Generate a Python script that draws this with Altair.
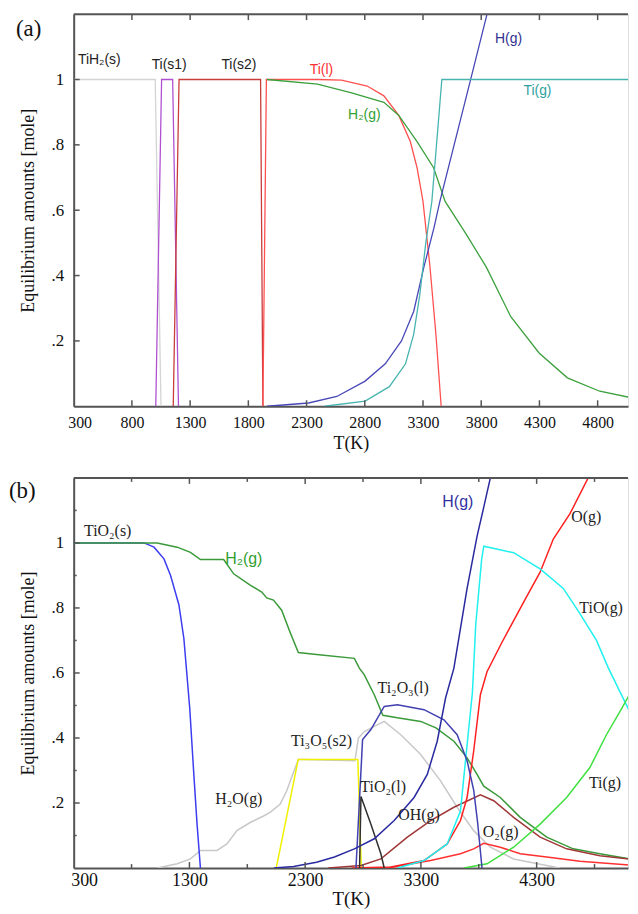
import altair as alt
import pandas as pd

# ---------------- panel (a) : TiH2 ----------------
A_TIH2_T = [300, 1000, 1050]
A_TIH2_V = [1.0, 1.0, 0.0]
A_TIS1_T = [1005, 1055, 1150, 1200]
A_TIS1_V = [0.0, 1.0, 1.0, 0.0]
A_TIS2_T = [1155, 1205, 1905, 1925]
A_TIS2_V = [0.0, 1.0, 1.0, 0.0]
A_TIL_T = [1925, 1955, 2400, 2600, 2821, 2964, 3092, 3191, 3249, 3300, 3359, 3411, 3456]
A_TIL_V = [0.0, 1.0, 1.0, 0.998, 0.98, 0.95, 0.89, 0.81, 0.73, 0.627, 0.43, 0.22, 0.0]
A_H2_T = [1960, 2394, 2679, 2964, 3092, 3249, 3391, 3490, 3672, 3845, 4054, 4297, 4540, 4818, 5130]
A_H2_V = [1.0, 0.986, 0.96, 0.93, 0.89, 0.81, 0.73, 0.627, 0.526, 0.425, 0.274, 0.163, 0.087, 0.046, 0.023]
A_H_T = [1960, 2317, 2560, 2803, 2976, 3115, 3220, 3307, 3394, 3445, 3704, 3850]
A_H_V = [0.0, 0.01, 0.03, 0.077, 0.13, 0.20, 0.29, 0.425, 0.546, 0.627, 0.993, 1.2]
A_TIG_T = [2454, 2803, 3011, 3150, 3220, 3272, 3324, 3376, 3462, 5130]
A_TIG_V = [0.0, 0.016, 0.06, 0.13, 0.22, 0.34, 0.50, 0.627, 1.0, 1.0]

A_SERIES = ["TiH2(s)", "Ti(s1)", "Ti(s2)", "Ti(l)", "H2(g)", "H(g)", "Ti(g)"]
A_COLORS = ["#d4d4d4", "#b050d0", "#c83c3c", "#ff5050", "#3ca03c", "#4848b8", "#48b4b0"]

A_LAB_TEXT = ["TiH₂(s)", "Ti(s1)", "Ti(s2)", "Ti(l)", "H(g)", "Ti(g)", "H₂(g)"]
A_LAB_T = [520, 1120, 1719, 2428, 4035, 4283, 2796]
A_LAB_V = [1.06, 1.045, 1.045, 1.03, 1.124, 0.964, 0.89]
A_LAB_C = ["#222222", "#222222", "#222222", "#ff3030", "#303090", "#30a0a0", "#30a030"]

A_XLABELS = [300, 800, 1300, 1800, 2300, 2800, 3300, 3800, 4300, 4800]
A_XTICKS = [800, 1300, 1800, 2300, 2800, 3300, 3800, 4300, 4800]
A_YTICKS = [0.2, 0.4, 0.6, 0.8, 1.0]

# ---------------- panel (b) : TiO2 ----------------
B_TIO2S_T = [300, 908, 994, 1080, 1137, 1209, 1252, 1270, 1303, 1338, 1366, 1395]
B_TIO2S_V = [1.0, 1.0, 0.987, 0.951, 0.90, 0.81, 0.706, 0.63, 0.49, 0.288, 0.135, 0.0]
B_H2_T = [300, 1022, 1194, 1309, 1395, 1596, 1682, 1825, 1925, 1968, 2026, 2097, 2168, 2241,
          2398, 2725, 2768, 2811, 2897, 2971, 3097, 3298, 3430, 3585, 3699, 3785, 3843, 3986,
          4158, 4387, 4616, 4846, 5160]
B_H2_V = [1.0, 1.0, 0.987, 0.971, 0.949, 0.949, 0.905, 0.87, 0.849, 0.831, 0.824, 0.793, 0.727, 0.663,
          0.657, 0.645, 0.615, 0.594, 0.533, 0.47, 0.462, 0.451, 0.431, 0.39, 0.339, 0.288, 0.252, 0.217,
          0.156, 0.095, 0.059, 0.044, 0.025]
B_H_T = [2030, 2200, 2398, 2553, 2725, 2897, 3069, 3241, 3355, 3441, 3513, 3585, 3699, 3785, 3843, 3900]
B_H_V = [0.0, 0.005, 0.018, 0.034, 0.059, 0.09, 0.146, 0.217, 0.288, 0.39, 0.523, 0.615, 0.86, 1.02, 1.11, 1.2]
B_H2O_T = [1022, 1194, 1309, 1395, 1538, 1624, 1710, 1825, 1940, 1997, 2083, 2140, 2198, 2241, 2300,
           2730, 2760, 2811, 2983, 3126, 3298, 3470, 3613, 3756, 3900, 4101, 4387, 4500]
B_H2O_V = [0.0, 0.013, 0.028, 0.054, 0.054, 0.074, 0.115, 0.14, 0.16, 0.171, 0.196, 0.237, 0.293, 0.334, 0.334,
           0.33, 0.40, 0.42, 0.451, 0.41, 0.349, 0.268, 0.187, 0.115, 0.064, 0.028, 0.008, 0.0]
B_TI3O5_T = [2050, 2240, 2755, 2785]
B_TI3O5_V = [0.0, 0.334, 0.334, 0.0]
B_TI2O3_T = [2739, 2796, 2868, 2983, 3097, 3327, 3499, 3613, 3699, 3756, 3790, 3828]
B_TI2O3_V = [0.0, 0.395, 0.426, 0.497, 0.502, 0.487, 0.456, 0.41, 0.33, 0.24, 0.14, 0.0]
B_TIO2L_T = [2770, 2782, 2868, 2954, 2983]
B_TIO2L_V = [0.0, 0.22, 0.135, 0.044, 0.0]
B_OH_T = [2500, 2782, 2954, 3183, 3384, 3585, 3814, 3929, 4101, 4330, 4559, 4846, 5160]
B_OH_V = [0.0, 0.008, 0.028, 0.095, 0.146, 0.187, 0.225, 0.207, 0.156, 0.095, 0.059, 0.038, 0.025]
B_O_T = [2700, 3040, 3327, 3527, 3642, 3699, 3756, 3814, 3871, 4003, 4204, 4330, 4444, 4588, 4745]
B_O_V = [0.0, 0.003, 0.023, 0.074, 0.146, 0.217, 0.36, 0.533, 0.604, 0.696, 0.829, 0.91, 1.012, 1.09, 1.2]
B_O2_T = [3011, 3384, 3642, 3756, 3843, 3986, 4158, 4387, 4674, 5160]
B_O2_V = [0.0, 0.023, 0.044, 0.059, 0.076, 0.064, 0.044, 0.034, 0.021, 0.008]
B_TIO_T = [3097, 3327, 3527, 3642, 3688, 3745, 3774, 3825, 3843, 4101, 4330, 4530, 4660, 4817, 4920, 5160]
B_TIO_V = [0.0, 0.023, 0.074, 0.176, 0.34, 0.54, 0.75, 0.95, 0.99, 0.97, 0.92, 0.86, 0.79, 0.70, 0.615, 0.44]
B_TIG_T = [3671, 3871, 4101, 4330, 4559, 4760, 4903, 5018, 5160]
B_TIG_V = [0.0, 0.013, 0.064, 0.135, 0.217, 0.309, 0.41, 0.48, 0.57]

B_SERIES = ["H2O(g)", "TiO2(s)", "H2(g)", "Ti3O5(s2)", "OH(g)", "O2(g)", "O(g)", "TiO(g)",
            "Ti(g)", "Ti2O3(l)", "TiO2(l)", "H(g)"]
B_COLORS = ["#c8c8c8", "#3c3cf0", "#3a9a3a", "#f0f000", "#a03838", "#ff3030", "#ff2020", "#20f0f0",
            "#40e040", "#4040b0", "#303030", "#2a2aa0"]

B_SERIF_TEXT = ["TiO₂(s)", "H₂O(g)", "Ti₃O₅(s2)", "Ti₂O₃(l)", "TiO₂(l)", "OH(g)", "O₂(g)", "O(g)", "TiO(g)", "Ti(g)"]
B_SERIF_T = [594, 1727, 2441, 3146, 2974, 3284, 3989, 4728, 4857, 4890]
B_SERIF_V = [1.037, 0.211, 0.39, 0.553, 0.248, 0.162, 0.11, 1.08, 0.80, 0.263]
B_SANS_TEXT = ["H₂(g)", "H(g)"]
B_SANS_T = [1770, 3619]
B_SANS_V = [0.951, 1.125]
B_SANS_C = ["#30a030", "#3030a0"]

B_XLABELS = [300, 1300, 2300, 3300, 4300]
B_XMAJOR = [1300, 2300, 3300, 4300]
B_XMINOR = [800, 1800, 2800, 3800, 4800]
B_YMAJOR = [0.2, 0.4, 0.6, 0.8, 1.0]
B_YMINOR = [0.1, 0.3, 0.5, 0.7, 0.9, 1.1]

SERIF = "Liberation Serif"
SANS = "Liberation Sans"
AXC = "#555555"
W = 557
HA = 394
HB = 392


def long_df(items):
    rows = []
    for name, ts, vs in items:
        for i, (t, v) in enumerate(zip(ts, vs)):
            rows.append({"s": name, "T": t, "v": v, "i": i})
    return pd.DataFrame(rows)


dfA = long_df([
    ("TiH2(s)", A_TIH2_T, A_TIH2_V), ("Ti(s1)", A_TIS1_T, A_TIS1_V), ("Ti(s2)", A_TIS2_T, A_TIS2_V),
    ("Ti(l)", A_TIL_T, A_TIL_V), ("H2(g)", A_H2_T, A_H2_V), ("H(g)", A_H_T, A_H_V),
    ("Ti(g)", A_TIG_T, A_TIG_V)])
dfB = long_df([
    ("H2O(g)", B_H2O_T, B_H2O_V), ("TiO2(s)", B_TIO2S_T, B_TIO2S_V), ("H2(g)", B_H2_T, B_H2_V),
    ("Ti3O5(s2)", B_TI3O5_T, B_TI3O5_V), ("OH(g)", B_OH_T, B_OH_V), ("O2(g)", B_O2_T, B_O2_V),
    ("O(g)", B_O_T, B_O_V), ("TiO(g)", B_TIO_T, B_TIO_V), ("Ti(g)", B_TIG_T, B_TIG_V),
    ("Ti2O3(l)", B_TI2O3_T, B_TI2O3_V), ("TiO2(l)", B_TIO2L_T, B_TIO2L_V), ("H(g)", B_H_T, B_H_V)])

ylab = "datum.value >= 0.99 ? '1' : replace(format(datum.value, '.1f'), '0.', '.')"


def panel(df, series, colors, xmax, height, xlabels, xmaj, xmin_, ymaj, ymin_, lw,
          xlab_size, xtitle_size, lab_pad, title_pad, flush_off, plabel, plabel_x, plabel_y, labels):
    xs = alt.Scale(domain=[300, xmax], nice=False, zero=False)
    ys = alt.Scale(domain=[0, 1.2], nice=False, zero=False)
    xaxis = alt.Axis(values=xlabels, title="T(K)", format="d", labelFont=SERIF, labelFontSize=xlab_size,
                     labelColor="#111", titleFont=SERIF, titleFontSize=xtitle_size, titleFontWeight="normal",
                     titleColor="#111", domainColor=AXC, domainWidth=2, ticks=False, tickSize=0,
                     labelPadding=lab_pad, titlePadding=title_pad, grid=False, labelFlush=True,
                     labelFlushOffset=flush_off, labelOverlap=False)
    yaxis = alt.Axis(values=ymaj, labelExpr=ylab, title="Equilibrium amounts [mole]", labelFont=SERIF,
                     labelFontSize=17, labelColor="#111", titleFont=SERIF, titleFontSize=18,
                     titleFontWeight="normal", titleColor="#111", domainColor=AXC, domainWidth=2,
                     ticks=False, tickSize=0, labelPadding=10, titlePadding=14, grid=False,
                     labelOverlap=False)
    X = lambda: alt.X("T:Q", scale=xs, axis=xaxis)
    Y = lambda: alt.Y("v:Q", scale=ys, axis=yaxis)
    layers = [alt.Chart(df).mark_line(strokeWidth=lw, clip=True).encode(
        x=X(), y=Y(),
        color=alt.Color("s:N", scale=alt.Scale(domain=series, range=colors), legend=None),
        order=alt.Order("i:Q"),
    )]
    for vals, ln in ((xmaj, 6), (xmin_, 4)):
        if not vals:
            continue
        tdf = pd.DataFrame({"T": vals})
        layers.append(alt.Chart(tdf).mark_rule(color=AXC, strokeWidth=1.5).encode(
            x=X(), y=alt.value(height), y2=alt.value(height - ln)))
        layers.append(alt.Chart(tdf).mark_rule(color=AXC, strokeWidth=1.5).encode(
            x=X(), y=alt.value(0), y2=alt.value(ln)))
    for vals, ln in ((ymaj, 6), (ymin_, 3)):
        if not vals:
            continue
        ydf = pd.DataFrame({"v": vals})
        layers.append(alt.Chart(ydf).mark_rule(color=AXC, strokeWidth=1.5).encode(
            y=Y(), x=alt.value(0), x2=alt.value(ln)))
    layers.append(alt.Chart(pd.DataFrame({"k": [0]})).mark_rule(color=AXC, strokeWidth=2).encode(
        x=alt.value(0), x2=alt.value(W), y=alt.value(0)))
    layers.append(alt.Chart(pd.DataFrame({"p": [plabel]})).mark_text(
        font=SERIF, fontSize=23, align="left", baseline="middle", color="#111").encode(
        x=alt.value(plabel_x), y=alt.value(plabel_y), text="p:N"))
    for txt, t, v, col, font, size in labels:
        ldf = pd.DataFrame({"label": [txt], "T": [t], "v": [v]})
        layers.append(alt.Chart(ldf).mark_text(font=font, fontSize=size, align="center",
                                               baseline="middle", color=col).encode(
            x=X(), y=Y(), text="label:N"))
    return alt.layer(*layers).properties(width=W, height=height)


labsA = [(a, b, c, d, SANS, 14) for a, b, c, d in zip(A_LAB_TEXT, A_LAB_T, A_LAB_V, A_LAB_C)]
chartA = panel(dfA, A_SERIES, A_COLORS, 300 + W / 0.117, HA, A_XLABELS, A_XTICKS, [], A_YTICKS, [],
               1.3, 16, 18, 8, 4, 6, "(a)", -58, 15, labsA)

labsB = [(a, b, c, "#222222", SERIF, 16) for a, b, c in zip(B_SERIF_TEXT, B_SERIF_T, B_SERIF_V)]
labsB += [(a, b, c, d, SANS, 16) for a, b, c, d in zip(B_SANS_TEXT, B_SANS_T, B_SANS_V, B_SANS_C)]
chartB = panel(dfB, B_SERIES, B_COLORS, 300 + W / 0.1163, HB, B_XLABELS, B_XMAJOR, B_XMINOR, B_YMAJOR,
               B_YMINOR, 1.5, 18, 19, 4, 0, 3, "(b)", -65, 13, labsB)

chart = alt.vconcat(chartA, chartB, spacing=23).resolve_scale(
    color="independent", x="independent", y="independent"
).properties(
    padding={"left": 0, "top": 2, "right": 0, "bottom": 0}
).configure_view(stroke=None).configure(background="white")

chart.save("out.html", embed_options={"renderer": "svg", "actions": False})
